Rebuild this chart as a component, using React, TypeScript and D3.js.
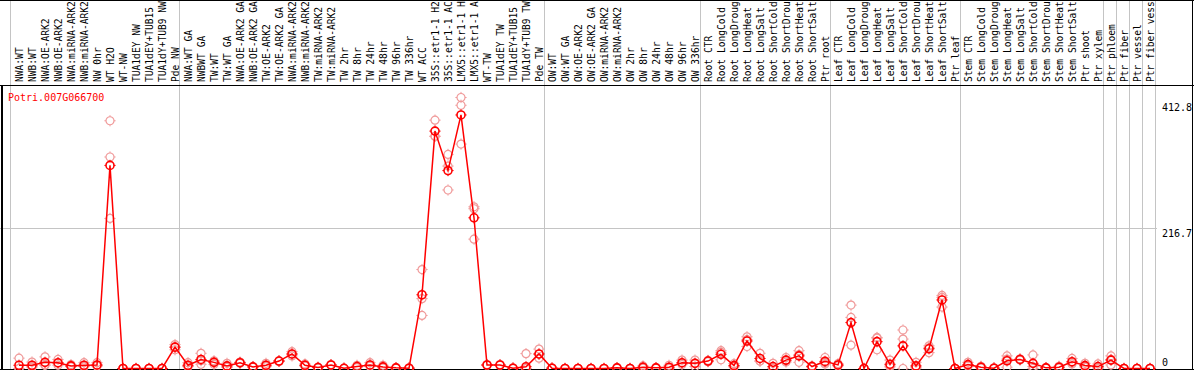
import React from "react";
import * as d3 from "d3";

const title = "Potri.007G066700";

const labels = [
  "NWA:WT", "NWB:WT", "NWA:OE-ARK2", "NWB:OE-ARK2", "NWA:miRNA-ARK2", "NWB:miRNA-ARK2", "NW 0hr", "WT H2O", "WT-NW", "TUA1dEY NW", "TUA1dEY+TUB15 NW", "TUA1dY+TUB9 NW", "Pde NW",
  "NWA:WT GA", "NWBWT GA", "TW:WT", "TW:WT GA", "NWA:OE-ARK2 GA", "NWB:OE-ARK2 GA", "TW:OE-ARK2", "TW:OE-ARK2 GA", "NWA:miRNA-ARK2", "NWB:miRNA-ARK2", "TW:miRNA-ARK2", "TW:miRNA-ARK2", "TW 2hr", "TW 8hr", "TW 24hr", "TW 48hr", "TW 96hr", "TW 336hr", "WT ACC", "35S::etr1-1 H2O", "35S::etr1-1 ACC", "LMX5::etr1-1 H2O", "LMX5::etr1-1 ACC", "WT-TW", "TUA1dEY TW", "TUA1dEY+TUB15 TW", "TUA1dY+TUB9 TW", "Pde TW",
  "OW:WT", "OW:WT GA", "OW:OE-ARK2", "OW:OE-ARK2 GA", "OW:miRNA-ARK2", "OW:miRNA-ARK2", "OW 2hr", "OW 8hr", "OW 24hr", "OW 48hr", "OW 96hr", "OW 336hr",
  "Root CTR", "Root LongCold", "Root LongDrought", "Root LongHeat", "Root LongSalt", "Root ShortCold", "Root ShortDrought", "Root ShortHeat", "Root ShortSalt", "Ptr root",
  "Leaf CTR", "Leaf LongCold", "Leaf LongDrought", "Leaf LongHeat", "Leaf LongSalt", "Leaf ShortCold", "Leaf ShortDrought", "Leaf ShortHeat", "Leaf ShortSalt", "Ptr leaf",
  "Stem CTR", "Stem LongCold", "Stem LongDrought", "Stem LongHeat", "Stem LongSalt", "Stem ShortCold", "Stem ShortDrought", "Stem ShortHeat", "Stem ShortSalt", "Ptr shoot", "Ptr xylem",
  "Ptr phloem", "Ptr fiber", "Ptr vessel", "Ptr fiber vessel",
];

// index of the last column in each sample group
const groupEnds = [12, 40, 52, 62, 72, 83, 84, 85, 86, 87];

const means = [
  5, 5, 9.5, 9, 4, 5, 5.5, 314, 0, 0, 0, 0, 33,
  5, 14, 9.5, 4, 9, 2.5, 5, 11.5, 22.5, 5, 1.5, 5.5, 0.3, 3, 5.5, 2.5, 1, 0.5, 114, 367, 306, 392, 233, 5.4, 5.4, 0.5, 2.8, 22.5,
  0.5, 0, 0, 0, 0, 1, 0, 2, 1, 2, 9, 8,
  11.5, 22, 4.5, 42.5, 15.5, 3, 13, 19.5, 3, 11,
  5.5, 71, 0, 41.5, 6.5, 35, 4, 30.5, 106, 0,
  6, 2, 0.5, 12, 14, 8, 1, 2, 10.5, 4.5, 3,
  13, 0, 0, 0,
];

const rep1 = [
  16, 10, 18, 14, 6, 9, 9, 383, 0, 0, 0, 0, 37,
  9, 23.5, 12, 8, 10, 3, 8, 12, 26, 7, 2, 6, 0.5, 5, 9, 5, 1.5, 1, 153, 384, 331, 419, 247, 6, 6, 1, 23, 30,
  1, 0, 0, 0, 0, 1.5, 0, 4, 1.5, 5, 13, 13,
  12.5, 27.5, 7.5, 49, 23.5, 8, 17, 27.5, 4, 17,
  7.5, 98, 0, 48, 13, 59.5, 9.5, 35, 113, 0,
  9.5, 3.5, 1, 19.5, 15, 21, 1.5, 3.5, 15.5, 8, 7,
  19.5, 0, 0, 0,
];

const rep2 = [
  0, 3, 5, 8, 3, 3, 4, 327, 0, 0, 0, 0, 33,
  3, 12, 10, 2, 9, 2.5, 4, 11.5, 22, 4, 1.5, 5.5, 0.3, 2.5, 4, 1.5, 1, 0.5, 108, 359, 313, 407, 200, 5, 5, 0.5, 0, 22,
  0.5, 0, 0, 0, 0, 1, 0, 1.5, 1, 1, 8, 8,
  11.5, 25, 3.5, 44.5, 11.5, 1, 12, 21.5, 3, 9,
  5, 79, 0, 47, 4, 45.5, 2, 32, 110, 0,
  5, 1.5, 0.5, 14.5, 14, 3, 1, 1.5, 9, 3.5, 1.5,
  14, 0, 0, 0,
];

const rep3 = [
  0, 2, 5.5, 5, 3, 3, 4, 232, 0, 0, 0, 0, 29,
  3, 6.5, 6.5, 2, 8, 2, 3, 11, 19.5, 4, 1, 5, 0, 1.5, 3.5, 1, 0.5, 0, 82, 359, 276, 347, 250, 5, 5, 0, 0, 16,
  0, 0, 0, 0, 0, 0.5, 0, 0.5, 0.5, 0, 6, 3,
  10.5, 13.5, 2.5, 34, 11.5, 0, 10, 9.5, 2, 7,
  4, 36, 0, 29, 2.5, 0, 0.5, 24.5, 95, 0,
  3.5, 1, 0, 2, 13, 0, 0.5, 1, 7, 2, 0.5,
  5.5, 0, 0, 0,
];

const yMax = 412.8;
const yTicks = [0, 216.7, 412.8];

const FONT = "'DejaVu Sans Mono', 'Liberation Mono', monospace";
const RED = "#ff0000";
const PALE = "#f09a9a";
const GRID = "#c4c4c4";

function Marker({ cx, cy, color, sw }: { cx: number; cy: number; color: string; sw: number }) {
  return (
    <g transform={`translate(${cx},${cy})`}>
      <circle r={4} fill="none" stroke={color} strokeWidth={sw} />
      <path d="M0,-5.6V-4M0,4V5.6M-5.6,0H-4M4,0H5.6" stroke={color} strokeWidth={1} />
    </g>
  );
}

export default function App() {
  const W = 1194;
  const H = 370;
  const headerBottom = 85.5;
  const n = labels.length;

  const x = d3.scalePoint<number>().domain(d3.range(n)).range([19, 1150]);
  const gx = d3.scaleLinear().domain([0, n]).range([10, 1155.3]);
  const y = d3.scaleLinear().domain([0, yMax]).range([368.5, 101.5]);

  const line = d3
    .line<number>()
    .x((_, i) => x(i) as number)
    .y((d) => y(d));

  const boundaries = [0, ...groupEnds.map((e) => e + 1)];
  const reps = [rep1, rep2, rep3];

  return (
    <div style={{ position: "absolute", left: 0, top: 0 }}>
      <svg width={W} height={H} style={{ display: "block", background: "#fff" }}>
        <rect x={0} y={0} width={W} height={H} fill="#fff" />
        {/* vertical group separators */}
        {boundaries.map((b, i) => {
          const gxv = Math.round(gx(b)) + 0.5;
          return (
            <line key={"g" + i} x1={gxv} x2={gxv} y1={0} y2={H} stroke={GRID} strokeWidth={1} shapeRendering="crispEdges" />
          );
        })}
        {/* horizontal middle gridline */}
        {yTicks
          .filter((t) => t > 0 && t < yMax)
          .map((t, i) => {
            const yy = Math.round(y(t)) + 0.5;
            return <line key={"h" + i} x1={0} x2={1157} y1={yy} y2={yy} stroke={GRID} strokeWidth={1} shapeRendering="crispEdges" />;
          })}
        {/* frame lines */}
        <line x1={0} x2={W} y1={0.5} y2={0.5} stroke="#000" shapeRendering="crispEdges" />
        <line x1={0} x2={W} y1={headerBottom} y2={headerBottom} stroke="#000" shapeRendering="crispEdges" />
        <line x1={1.5} x2={1.5} y1={headerBottom} y2={H} stroke="#000" strokeWidth={2} shapeRendering="crispEdges" />
        <line x1={0} x2={W} y1={369.5} y2={369.5} stroke="#000" strokeWidth={2} shapeRendering="crispEdges" />
        <line x1={1192.5} x2={1192.5} y1={0} y2={H} stroke="#000" shapeRendering="crispEdges" />

        {/* rotated sample labels */}
        {labels.map((l, i) => (
          <text
            key={"l" + i}
            transform={`translate(${(x(i) as number) + 3.5},82) rotate(-90)`}
            fontFamily={FONT}
            fontSize={9.6}
            fill="#000"
          >
            {l.slice(0, 14)}
          </text>
        ))}

        {/* y tick labels on the right */}
        {yTicks.map((t, i) => (
          <text
            key={"t" + i}
            x={1162}
            y={t === 0 ? y(t) - 2.5 : y(t) + 9}
            fontFamily={FONT}
            fontSize={10}
            fill="#000"
          >
            {t === 0 ? "0" : t.toFixed(1)}
          </text>
        ))}

        {/* title */}
        <text x={8} y={101} fontFamily={FONT} fontSize={10} fill={RED}>
          {title}
        </text>

        {/* replicate markers */}
        {reps.map((r, k) =>
          r.map((v, i) => <Marker key={`r${k}-${i}`} cx={x(i) as number} cy={y(v)} color={PALE} sw={1.2} />)
        )}

        {/* mean line */}
        <path d={line(means) || ""} fill="none" stroke={RED} strokeWidth={1.5} />

        {/* mean markers */}
        {means.map((v, i) => (
          <Marker key={"m" + i} cx={x(i) as number} cy={y(v)} color={RED} sw={1.6} />
        ))}
      </svg>
    </div>
  );
}
